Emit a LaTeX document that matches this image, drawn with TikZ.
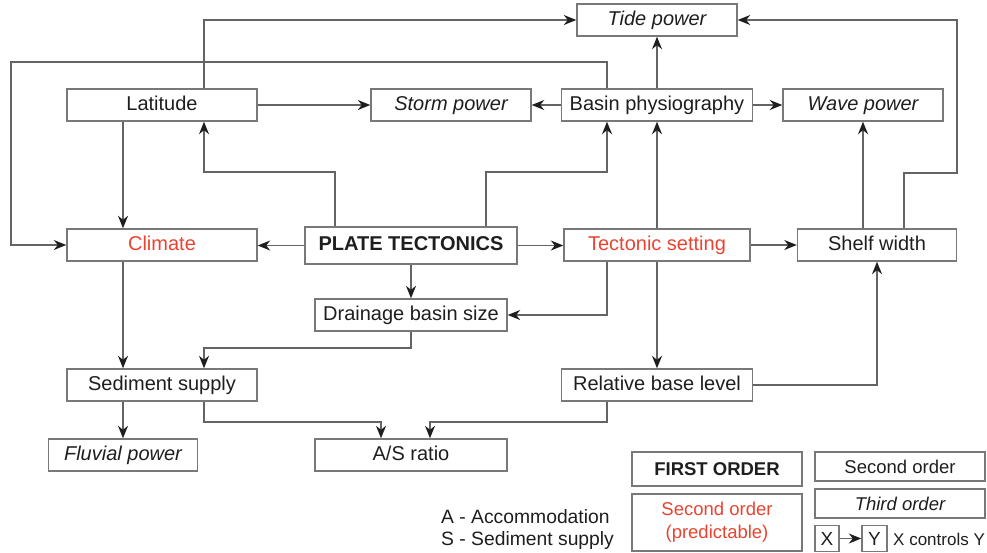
\documentclass[tikz,border=0pt]{standalone}
\usepackage{fontspec}
\setmainfont{Liberation Sans}
\usetikzlibrary{arrows.meta,calc}
\definecolor{boxgray}{RGB}{120,120,120}
\definecolor{linegray}{RGB}{100,100,100}
\definecolor{txt}{RGB}{30,30,30}
\definecolor{redtxt}{RGB}{232,68,48}
\tikzset{
  box/.style={draw=boxgray, line width=1.4pt, inner sep=0pt, minimum height=32pt,
    text height=14.5pt, text depth=4.5pt,
    text=txt, font=\fontsize{20}{24}\selectfont},
  legbox/.style={draw=boxgray, line width=1.4pt, inner sep=0pt, text=txt,
    font=\fontsize{18.5}{23}\selectfont, align=center},
  arr/.style={draw=linegray, line width=1.4pt,
    -{Stealth[length=12.5pt,width=10pt,inset=4pt,color=txt]}},
  legtxt/.style={anchor=west, inner sep=0pt, text=txt}
}
\begin{document}
\begin{tikzpicture}[x=1pt,y=-1pt]
\useasboundingbox (0,0) rectangle (987,552);
% main boxes
\node[box, minimum width=160pt] (tide) at (657,20) {\itshape Tide power};
\node[box, minimum width=190pt] (lat) at (162,105) {Latitude};
\node[box, minimum width=160pt] (storm) at (451,105) {\itshape Storm power};
\node[box, minimum width=191pt] (basin) at (657,105) {Basin physiography};
\node[box, minimum width=160pt] (wave) at (863,105) {\itshape Wave power};
\node[box, minimum width=190pt, text=redtxt] (climate) at (162,245) {Climate};
\node[box, minimum width=212pt, minimum height=37pt, font=\fontsize{20}{24}\selectfont\bfseries] (pt) at (411,245.5) {PLATE TECTONICS};
\node[box, minimum width=186pt, text=redtxt] (tect) at (657,245) {Tectonic setting};
\node[box, minimum width=159pt] (shelf) at (877,245) {Shelf width};
\node[box, minimum width=192pt] (drain) at (411,315) {Drainage basin size};
\node[box, minimum width=190pt] (sed) at (162,385) {Sediment supply};
\node[box, minimum width=191pt] (rbl) at (657,385) {Relative base level};
\node[box, minimum width=149pt] (fluv) at (123,455) {\itshape Fluvial power};
\node[box, minimum width=192pt] (as) at (411,455) {A/S ratio};
% legend
\node[legbox, minimum width=170pt, minimum height=34pt, font=\fontsize{18.5}{23}\selectfont\bfseries] (first) at (717,469) {FIRST ORDER};
\node[legbox, minimum width=170pt, minimum height=29pt] (sec) at (900,466.5) {Second order};
\node[legbox, minimum width=170pt, minimum height=57pt, text=redtxt] (secp) at (717,522.5) {Second order\\(predictable)};
\node[legbox, minimum width=170pt, minimum height=29pt, font=\fontsize{18.5}{23}\selectfont\itshape] (third) at (900,503.5) {Third order};
\node[legbox, minimum width=24pt, minimum height=26pt, font=\fontsize{19}{23}\selectfont] (X) at (827,538.5) {X};
\node[legbox, minimum width=25pt, minimum height=26pt, font=\fontsize{19}{23}\selectfont] (Y) at (874.5,538.5) {Y};
\node[legtxt, font=\fontsize{17}{21}\selectfont] (xc) at (893,539) {X controls Y};
\node[legtxt, font=\fontsize{19.3}{23}\selectfont] (aa) at (441,517) {A - Accommodation};
\node[legtxt, font=\fontsize{19.3}{23}\selectfont] (ss) at (441,540) {S - Sediment supply};
% connectors
\draw[arr] ([xshift=42pt]lat.north) |- (tide.west);
\draw[arr] ([xshift=-50pt]basin.north) |- (11,62) |- (climate.west);
\draw[arr] (lat.east) -- (storm.west);
\draw[arr] ([xshift=-39pt]lat.south) -- ([xshift=-39pt]climate.north);
\draw[arr] ([xshift=-76pt]pt.north) |- (204,172) -- ([xshift=42pt]lat.south);
\draw[arr] ([xshift=75pt]pt.north) |- (607,172) -- ([xshift=-50pt]basin.south);
\draw[arr] (pt.west) -- (pt.west -| climate.east);
\draw[arr] (basin.west) -- (storm.east);
\draw[arr] (basin.north) -- (tide.south);
\draw[arr] (basin.east) -- (wave.west);
\draw[arr] (tect.north) -- (basin.south);
\draw[arr] (pt.east) -- (pt.east -| tect.west);
\draw[arr] (tect.east) -- (shelf.west);
\draw[arr] (wave.south |- shelf.north) -- (wave.south);
\draw[arr] ([xshift=27pt]shelf.north) |- (957,173) |- (tide.east);
\draw[arr] (pt.south) -- (drain.north);
\draw[arr] ([xshift=-50pt]tect.south) |- (drain.east);
\draw[arr] (tect.south) -- (rbl.north);
\draw[arr] (rbl.east) -| (shelf.south);
\draw[arr] ([xshift=-39pt]climate.south) -- ([xshift=-39pt]sed.north);
\draw[arr] (drain.south) |- (204,348) -- ([xshift=42pt]sed.north);
\draw[arr] ([xshift=-39pt]sed.south) -- (fluv.north);
\draw[arr] ([xshift=42pt]sed.south) |- (381,422) -- ([xshift=-30pt]as.north);
\draw[arr] ([xshift=-50pt]rbl.south) |- (430,422) -- ([xshift=19pt]as.north);
\draw[arr] (X.east) -- (Y.west);
\end{tikzpicture}
\end{document}
